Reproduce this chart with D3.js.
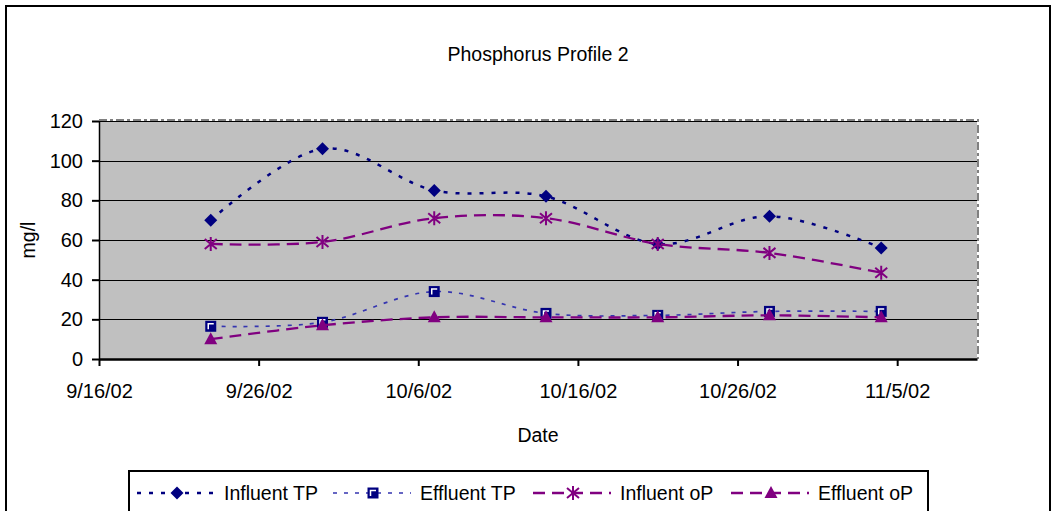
<!DOCTYPE html>
<html>
<head>
<meta charset="utf-8">
<script src="https://cdn.jsdelivr.net/npm/d3@7"></script>
<style>
  body { margin: 0; background: #fff; }
  text { font-family: "Liberation Sans", Arial, sans-serif; fill: #000; }
</style>
</head>
<body>
<svg id="chart" width="1055" height="511"></svg>
<script>
// values (weekly samples)
var sampleDates = ['2002-09-23', '2002-09-30', '2002-10-07', '2002-10-14', '2002-10-21', '2002-10-28', '2002-11-04'];
var influentTP = [70, 106, 85, 82, 58, 72, 56];
var effluentTP = [16.5, 18.5, 34, 23, 22, 24, 24];
var influentOP = [58, 59, 71, 71, 58, 53.5, 43.5];
var effluentOP = [10, 17, 21, 21, 21, 22, 21];

var seriesNames = ['Influent TP', 'Effluent TP', 'Influent oP', 'Effluent oP'];
var yTicks = [0, 20, 40, 60, 80, 100, 120];
var xTickLabels = ['9/16/02', '9/26/02', '10/6/02', '10/16/02', '10/26/02', '11/5/02'];

var parseDate = d3.timeParse('%Y-%m-%d');
var dates = sampleDates.map(parseDate);

var svg = d3.select('#chart');

var plot = { left: 99, top: 121, right: 977, bottom: 359 };

var x = d3.scaleTime()
    .domain([parseDate('2002-09-16'), parseDate('2002-11-10')])
    .range([plot.left, plot.right]);

var y = d3.scaleLinear()
    .domain([0, 120])
    .range([plot.bottom, plot.top]);

// outer chart frame
svg.append('rect')
    .attr('x', 6).attr('y', 6)
    .attr('width', 1044).attr('height', 520)
    .attr('fill', 'none')
    .attr('stroke', '#000')
    .attr('stroke-width', 2);

// title
svg.append('text')
    .attr('x', 538).attr('y', 61)
    .attr('text-anchor', 'middle')
    .style('font-size', '19.5px')
    .text('Phosphorus Profile 2');

// plot area
svg.append('rect')
    .attr('x', plot.left).attr('y', plot.top)
    .attr('width', plot.right - plot.left).attr('height', plot.bottom - plot.top)
    .attr('fill', '#c0c0c0');

// gridlines
svg.append('g').selectAll('line')
    .data(yTicks.filter(function(d) { return d > 0; }))
  .enter().append('line')
    .attr('x1', plot.left).attr('x2', plot.right)
    .attr('y1', function(d) { return Math.round(y(d)) + 0.5; })
    .attr('y2', function(d) { return Math.round(y(d)) + 0.5; })
    .attr('stroke', '#000')
    .attr('stroke-width', 1);

// dashed grey plot border (top and right)
svg.append('path')
    .attr('d', 'M' + plot.left + ',' + (plot.top - 1) + 'H' + (plot.right + 1) + 'V' + plot.bottom)
    .attr('fill', 'none')
    .attr('stroke', '#808080')
    .attr('stroke-width', 2)
    .attr('stroke-dasharray', '8,3,3,3');

// y axis
var yAxis = svg.append('g')
    .attr('transform', 'translate(' + plot.left + ',0)')
    .call(d3.axisLeft(y).tickValues(yTicks).tickSize(7).tickPadding(9).tickSizeOuter(0));
yAxis.selectAll('text').style('font-size', '20px').attr('fill', '#000');
yAxis.selectAll('line').attr('stroke', '#000').attr('stroke-width', 2);
yAxis.select('.domain').attr('stroke', '#000').attr('stroke-width', 1.5);

// x axis
var xAxis = svg.append('g')
    .attr('transform', 'translate(0,' + plot.bottom + ')')
    .call(d3.axisBottom(x)
      .tickValues(xTickLabels.map(d3.timeParse('%m/%d/%y')))
      .tickFormat(function(d, i) { return xTickLabels[i]; })
      .tickSize(7).tickPadding(18).tickSizeOuter(0));
xAxis.selectAll('text').style('font-size', '20px').attr('fill', '#000');
xAxis.selectAll('line').attr('stroke', '#000').attr('stroke-width', 2);
xAxis.select('.domain').attr('stroke', '#000').attr('stroke-width', 2.5);

// axis titles
svg.append('text')
    .attr('x', 538).attr('y', 442)
    .attr('text-anchor', 'middle')
    .style('font-size', '19.5px')
    .text('Date');

svg.append('text')
    .attr('transform', 'translate(35,240) rotate(-90)')
    .attr('text-anchor', 'middle')
    .style('font-size', '19.5px')
    .text('mg/l');

// series styling
var series = [
  { name: seriesNames[0], values: influentTP, color: '#000080', dash: '4,8', width: 2.5, marker: 'diamond' },
  { name: seriesNames[1], values: effluentTP, color: '#3535b0', dash: '4,7', width: 1.7, marker: 'square' },
  { name: seriesNames[2], values: influentOP, color: '#800080', dash: '12,7', width: 2.3, marker: 'star' },
  { name: seriesNames[3], values: effluentOP, color: '#800080', dash: '12,7', width: 2.3, marker: 'triangle' }
];

var line = d3.line()
    .x(function(d) { return x(d.date); })
    .y(function(d) { return y(d.value); })
    .curve(d3.curveCatmullRom.alpha(0));

function drawMarker(g, type, color) {
  if (type == 'diamond') {
    g.append('path').attr('d', 'M0,-6.5L6.5,0L0,6.5L-6.5,0Z').attr('fill', '#000080');
  } else if (type == 'square') {
    g.append('rect').attr('x', -5.5).attr('y', -5.5).attr('width', 11).attr('height', 11).attr('fill', '#000080');
    g.append('path').attr('d', 'M-2.5,3V-2.5H3').attr('fill', 'none').attr('stroke', '#fff').attr('stroke-width', 1.5);
  } else if (type == 'star') {
    g.append('path').attr('d', 'M0,-7V7M-6,-5L6,5M-6,5L6,-5')
        .attr('fill', 'none').attr('stroke', color).attr('stroke-width', 2);
  } else if (type == 'triangle') {
    g.append('path').attr('d', 'M0,-7L6.5,5L-6.5,5Z').attr('fill', color);
  }
}

series.forEach(function(s) {
  var pts = s.values.map(function(v, i) { return { date: dates[i], value: v }; });

  svg.append('path')
      .datum(pts)
      .attr('d', line)
      .attr('fill', 'none')
      .attr('stroke', s.color)
      .attr('stroke-width', s.width)
      .attr('stroke-dasharray', s.dash);

  svg.append('g').selectAll('g')
      .data(pts)
    .enter().append('g')
      .attr('transform', function(d) { return 'translate(' + x(d.date) + ',' + y(d.value) + ')'; })
      .each(function() { drawMarker(d3.select(this), s.marker, s.color); });
});

// legend
var legend = svg.append('g');
legend.append('rect')
    .attr('x', 129).attr('y', 471)
    .attr('width', 799).attr('height', 60)
    .attr('fill', '#fff')
    .attr('stroke', '#000')
    .attr('stroke-width', 2);

var legendMarkX = [177, 373, 573, 771];

var legendItem = legend.selectAll('g.item')
    .data(series)
  .enter().append('g')
    .attr('class', 'item')
    .attr('transform', function(d, i) { return 'translate(' + legendMarkX[i] + ',493)'; });

legendItem.append('line')
    .attr('x1', -40).attr('x2', 38)
    .attr('stroke', function(d) { return d.color; })
    .attr('stroke-width', function(d) { return d.width; })
    .attr('stroke-dasharray', function(d) { return d.dash; });

legendItem.each(function(d) { drawMarker(d3.select(this), d.marker, d.color); });

legendItem.append('text')
    .attr('x', 47).attr('y', 7)
    .style('font-size', '19.5px')
    .text(function(d) { return d.name; });
</script>
</body>
</html>
